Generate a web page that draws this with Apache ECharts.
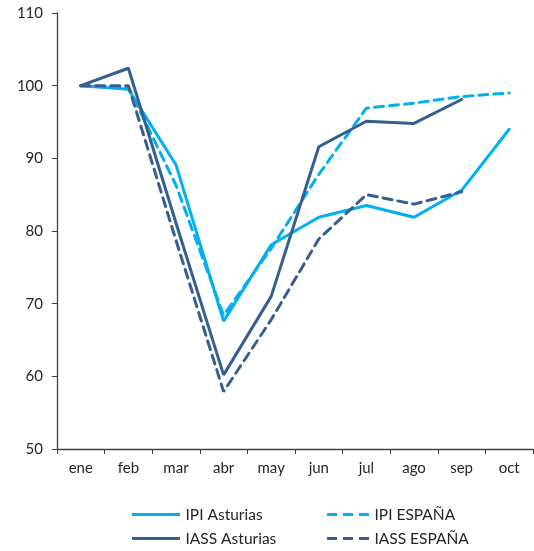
<!DOCTYPE html>
<html>
<head>
<meta charset="utf-8">
<script src="https://cdn.jsdelivr.net/npm/echarts@6/dist/echarts.min.js"></script>
<style>
  html, body { margin: 0; padding: 0; background: #fff; }
  #chart { width: 534px; height: 551px; }
</style>
</head>
<body>
<div id="chart"></div>
<script>
const months = ['ene', 'feb', 'mar', 'abr', 'may', 'jun', 'jul', 'ago', 'sep', 'oct']
const ipiAsturias = [100, 99.5, 89.1, 67.6, 78.1, 81.9, 83.5, 81.9, 85.6, 94.0]
const ipiEspana = [100, 99.8, 86.3, 68.4, 77.6, 87.8, 96.9, 97.6, 98.5, 99.0]
const iassAsturias = [100, 102.4, 81.1, 60.2, 71.0, 91.6, 95.1, 94.8, 98.1]
const iassEspana = [100, 100, 78.7, 57.9, 67.8, 78.9, 85.0, 83.7, 85.4]

const lightBlue = '#00B0F0'
const darkBlue = '#365F91'
const font = 'Lato, "Open Sans", sans-serif'

// legend icons: a solid bar and a dashed bar
const solidIcon = 'path://M0,0h48v3h-48z'
const dashIcon = 'path://M0,0h10v3h-10z M16,0h10v3h-10z M32,0h10v3h-10z'

const chart = echarts.init(document.getElementById('chart'))

function line(name, data, color, dashed) {
    return {
        name: name,
        type: 'line',
        data: data,
        symbol: 'none',
        color: color,
        lineStyle: {
            color: color,
            width: 3,
            type: dashed ? [9, 6] : 'solid',
            cap: 'round',
        },
    }
}

const legendText = { fontFamily: font, fontSize: 15.5, color: '#262626', lineHeight: 17 }

chart.setOption({
    animation: false,
    grid: { left: 57, right: 1, top: 13, bottom: 102, containLabel: false },
    legend: [
        {
            orient: 'vertical',
            left: 132,
            top: 506,
            padding: 0,
            itemWidth: 49,
            itemHeight: 3,
            itemGap: 7,
            textStyle: legendText,
            data: [
                { name: 'IPI Asturias', icon: solidIcon },
                { name: 'IASS Asturias', icon: solidIcon },
            ],
        },
        {
            orient: 'vertical',
            left: 327,
            top: 506,
            padding: 0,
            itemWidth: 43,
            itemHeight: 3,
            itemGap: 7,
            textStyle: legendText,
            data: [
                { name: 'IPI ESPAÑA', icon: dashIcon },
                { name: 'IASS ESPAÑA', icon: dashIcon },
            ],
        },
    ],
    xAxis: {
        type: 'category',
        data: months,
        boundaryGap: true,
        axisLine: { lineStyle: { color: '#404040', width: 1.3 } },
        axisTick: { show: true, length: 5, interval: 0, lineStyle: { color: '#404040' } },
        axisLabel: { fontFamily: font, fontSize: 15, color: '#262626', margin: 12, interval: 0 },
    },
    yAxis: {
        type: 'value',
        min: 50,
        max: 110,
        interval: 10,
        splitLine: { show: false },
        axisLine: { show: true, lineStyle: { color: '#404040', width: 1.3 } },
        axisTick: { show: true, length: 5, lineStyle: { color: '#404040' } },
        axisLabel: { fontFamily: font, fontSize: 15, color: '#262626', margin: 14 },
    },
    series: [
        line('IPI Asturias', ipiAsturias, lightBlue, false),
        line('IPI ESPAÑA', ipiEspana, lightBlue, true),
        line('IASS Asturias', iassAsturias, darkBlue, false),
        line('IASS ESPAÑA', iassEspana, darkBlue, true),
    ],
})
</script>
</body>
</html>
